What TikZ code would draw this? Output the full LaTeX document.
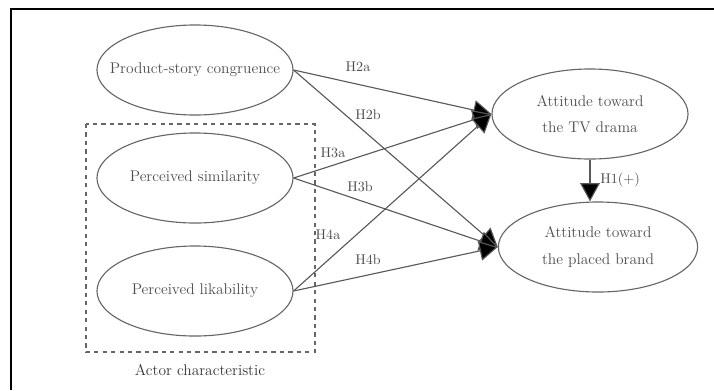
\documentclass[tikz,border=0pt]{standalone}
\usepackage{amsmath}
\usepackage{tikz}
\usetikzlibrary{arrows.meta}
\usetikzlibrary{shapes.geometric}

\begin{document}
\begin{tikzpicture}[
	x=0.025cm, y=-0.025cm,
	construct/.style={ellipse, draw=black!60, thick, inner sep=0pt,
		minimum width=4.9cm, minimum height=2.25cm},
	txt/.style={text=black!70, font=\fontsize{11}{19}\selectfont, align=center},
	path/.style={draw=black!65, thick,
		-{Triangle[length=13pt, width=14pt, fill=black]}},
	hyp/.style={text=black!70, font=\fontsize{10}{12}\selectfont}
]
	\useasboundingbox (0,0) rectangle (714,390);
	\draw[line width=1.6pt] (11,390) -- (11,9) -- (714,9);

	% actor box
	\draw[dashed, thick, black!60] (86,124) rectangle (315,352);
	\node[text=black!80, font=\fontsize{11}{13}\selectfont] (actor) at (200,370) {Actor characteristic};

	\node[construct, label={[txt]center:Product-story congruence}] (psc) at (195,70) {};
	\node[construct, label={[txt]center:Perceived similarity}] (sim) at (195,178) {};
	\node[construct, label={[txt]center:Perceived likability}] (lik) at (195,291) {};
	\node[construct, label={[txt]center:Attitude toward\\the TV drama}] (drama) at (590,114) {};
	\node[construct, minimum width=4.98cm, label={[txt]center:Attitude toward\\the placed brand}] (brand) at (598,247) {};

	\draw[path] (psc.east) -- (drama.west);
	\draw[path] (psc.east) -- (brand.west);
	\draw[path] (sim.east) -- (drama.west);
	\draw[path] (sim.east) -- (brand.west);
	\draw[path] (lik.east) -- (drama.west);
	\draw[path] (lik.east) -- (brand.west);
	\draw[path] (drama.south) -- (brand.north -| drama.south);

	\node[hyp] (h2a) at (358,67) {H2a};
	\node[hyp] (h2b) at (368,115) {H2b};
	\node[hyp] (h3a) at (333,153) {H3a};
	\node[hyp] (h3b) at (360,187) {H3b};
	\node[hyp] (h4a) at (328,235) {H4a};
	\node[hyp] (h4b) at (368,260) {H4b};
	\node[hyp] (h1) at (620,180) {H1(+)};
\end{tikzpicture}
\end{document}
